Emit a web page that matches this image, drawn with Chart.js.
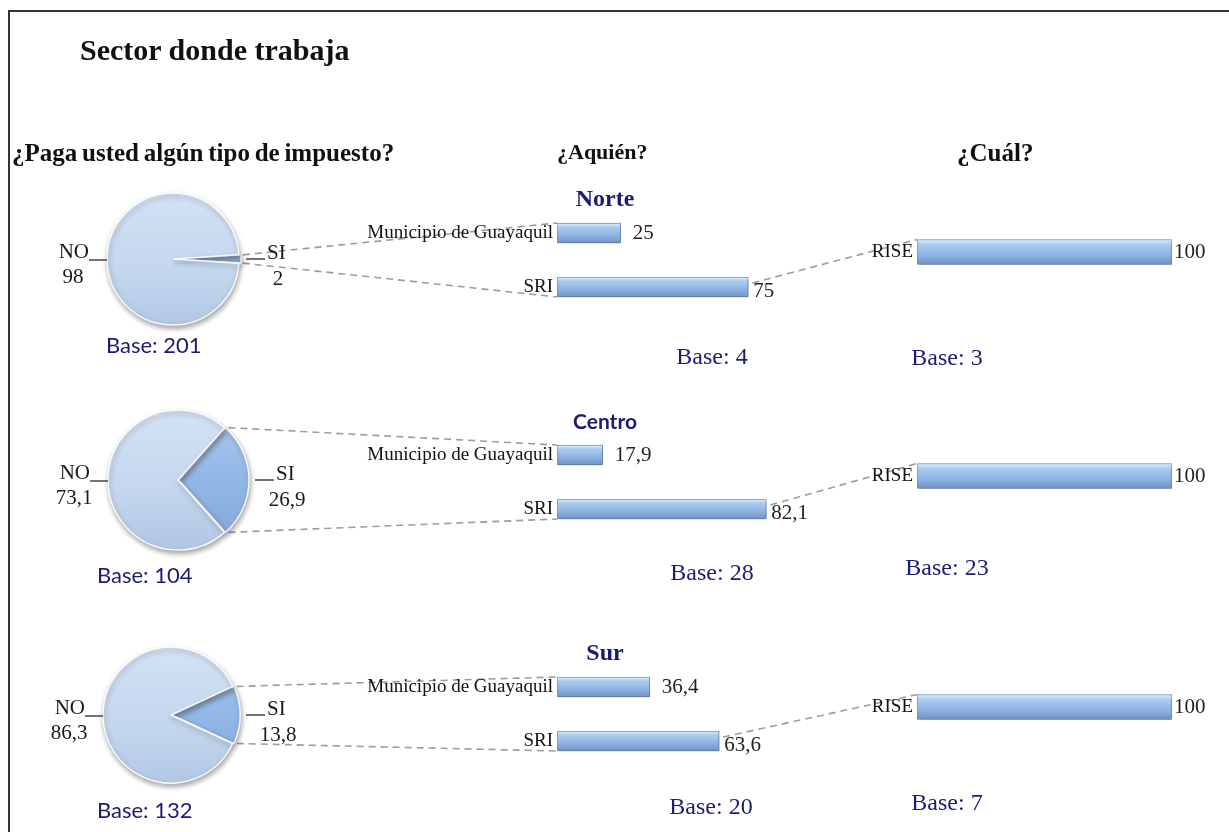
<!DOCTYPE html>
<html>
<head>
<meta charset="utf-8">
<title>Sector donde trabaja</title>
<script src="https://cdn.jsdelivr.net/npm/chart.js"></script>
<style>
  html, body { margin: 0; padding: 0; background: #fff; }
  #page { position: relative; width: 1229px; height: 832px; overflow: hidden; }
  #frame { position: absolute; left: 8px; top: 10px; width: 1260px; height: 860px;
           border-left: 2px solid #333; border-top: 2px solid #333; }
  .txt { position: absolute; white-space: nowrap; line-height: 1; }
  .serif { font-family: 'Liberation Serif', 'Times New Roman', serif; }
  .sans { font-family: Lato, 'Open Sans', sans-serif; }
  .bold { font-weight: bold; }
  .navy { color: #1c1c72; }
  canvas.chart { position: absolute; z-index: 1; }
  #links { position: absolute; left: 0; top: 0; z-index: 0; }
</style>
</head>
<body>
<div id="page">
  <div id="frame"></div>
  <canvas id="links" width="1229" height="832"></canvas>
  <div class="txt serif bold" style="left:80px;top:50px;transform:translateY(-50%);font-size:30px;color:#111">Sector donde trabaja</div>
  <div class="txt serif bold" style="left:12px;top:152px;transform:translateY(-50%);font-size:25px;word-spacing:-1.5px;color:#111">¿Paga usted algún tipo de impuesto?</div>
  <div class="txt serif bold" style="left:557px;top:152px;transform:translateY(-50%);font-size:22px;color:#111">¿Aquién?</div>
  <div class="txt serif bold" style="left:957px;top:152px;transform:translateY(-50%);font-size:25px;color:#111">¿Cuál?</div>
</div>
<script>
var zonas = ['Norte', 'Centro', 'Sur'];
var pagaLabels = ['SI', 'NO'];
var pagaSI = [2, 26.9, 13.8];
var pagaNO = [98, 73.1, 86.3];
var basePaga = [201, 104, 132];
var aquienLabels = ['Municipio de Guayaquil', 'SRI'];
var aquienMunicipio = [25, 17.9, 36.4];
var aquienSRI = [75, 82.1, 63.6];
var baseAquien = [4, 28, 20];
var cualLabels = ['RISE'];
var cualRISE = [100, 100, 100];
var baseCual = [3, 23, 7];

// where each row sits on the page
var rows = [
  { pie: [173, 259], r: 66, aquienTop: 206, cualMid: 252, zonaY: 198, zonaFont: 'serif', baseY: [345, 356, 357], baseX: [106, 712, 947] },
  { pie: [178, 480], r: 70, aquienTop: 428, cualMid: 476, zonaY: 420, zonaFont: 'sans', baseY: [575, 572, 567], baseX: [97, 712, 947] },
  { pie: [171, 715], r: 68, aquienTop: 660, cualMid: 707, zonaY: 652, zonaFont: 'serif', baseY: [810, 806, 802], baseX: [97, 711, 947] }
];
var PAD = 18; // vertical room for the category labels

var page = document.getElementById('page');

function fmt(v) { return String(v).replace('.', ','); }

function addText(text, x, y, cls, size, center) {
  var d = document.createElement('div');
  d.className = 'txt ' + cls;
  d.style.left = x + 'px';
  d.style.top = y + 'px';
  d.style.fontSize = size + 'px';
  d.style.transform = center ? 'translate(-50%,-50%)' : 'translateY(-50%)';
  d.textContent = text;
  page.appendChild(d);
}

function addCanvas(left, top, w, h) {
  var c = document.createElement('canvas');
  c.className = 'chart';
  c.width = w; c.height = h;
  c.style.left = left + 'px';
  c.style.top = top + 'px';
  c.style.width = w + 'px';
  c.style.height = h + 'px';
  page.appendChild(c);
  return c;
}

var shadow = {
  id: 'shadow',
  beforeDatasetsDraw: function(chart) {
    var ctx = chart.ctx;
    ctx.save();
    ctx.shadowColor = 'rgba(60,60,60,0.45)';
    ctx.shadowBlur = 5;
    ctx.shadowOffsetX = 1;
    ctx.shadowOffsetY = 3;
  },
  afterDatasetsDraw: function(chart) { chart.ctx.restore(); }
};

var valueLabels = {
  id: 'valueLabels',
  afterDraw: function(chart, args, opts) {
    var ctx = chart.ctx;
    var meta = chart.getDatasetMeta(0);
    var data = chart.data.datasets[0].data;
    ctx.save();
    ctx.font = '21px "Liberation Serif"';
    ctx.fillStyle = '#222';
    ctx.textAlign = 'left';
    ctx.textBaseline = 'middle';
    meta.data.forEach(function(bar, i) {
      ctx.fillText(fmt(data[i]), bar.x + opts.gap[i], bar.y + opts.dy[i]);
    });
    ctx.restore();
  }
};

var pieLabels = {
  id: 'pieLabels',
  afterDraw: function(chart) {
    var ctx = chart.ctx;
    var arcs = chart.getDatasetMeta(0).data;
    var data = chart.data.datasets[0].data;
    var si = arcs[0], no = arcs[1];
    var cx = no.x, cy = no.y, r = no.outerRadius;
    ctx.save();
    ctx.font = '21px "Liberation Serif"';
    ctx.fillStyle = '#1a1a1a';
    ctx.strokeStyle = '#444';
    ctx.lineWidth = 1.5;
    ctx.textBaseline = 'middle';
    // NO on the left
    var noX = cx - r - 18;
    ctx.beginPath(); ctx.moveTo(noX, cy + 1); ctx.lineTo(cx - r, cy + 1); ctx.stroke();
    ctx.textAlign = 'right';
    ctx.fillText(chart.data.labels[1], noX, cy - 7);
    ctx.textAlign = 'center';
    ctx.fillText(fmt(data[1]), noX - 16, cy + 18);
    // SI on the right
    var edge = cx + r + si.options.offset;
    ctx.beginPath(); ctx.moveTo(edge + 3, cy); ctx.lineTo(edge + 22, cy); ctx.stroke();
    ctx.textAlign = 'left';
    ctx.fillText(chart.data.labels[0], edge + 24, cy - 6);
    ctx.textAlign = 'center';
    ctx.fillText(fmt(data[0]), edge + 35, cy + 20);
    ctx.restore();
  }
};

function pieFill(c) {
  var area = c.chart.chartArea;
  var col = c.dataIndex === 0 ? ['#b2cff3', '#8fb5e6', '#7f9ccb'] : ['#d9e6f6', '#c4d7ef', '#a8bfdd'];
  if (!area || !isFinite(area.top) || !isFinite(area.bottom)) return col[1];
  var g = c.chart.ctx.createLinearGradient(0, area.top, 0, area.bottom);
  g.addColorStop(0, col[0]);
  g.addColorStop(0.55, col[1]);
  g.addColorStop(1, col[2]);
  return g;
}

function barFill(c) {
  var y = c.chart.scales.y;
  var h = 12;
  if (c.dataset && c.dataset.barThickness) h = c.dataset.barThickness / 2;
  var py = y ? y.getPixelForValue(c.dataIndex) : NaN;
  if (!isFinite(py)) return '#8fb4e3';
  var g = c.chart.ctx.createLinearGradient(0, py - h, 0, py + h);
  g.addColorStop(0, '#e2f1fe');
  g.addColorStop(0.2, '#acccf1');
  g.addColorStop(0.6, '#8fb4e3');
  g.addColorStop(1, '#6f92c3');
  return g;
}

function barOptions(labelWidth, rightPad, gap, dy) {
  return {
    indexAxis: 'y',
    responsive: false,
    animation: false,
    events: [],
    layout: { padding: { left: 0, right: rightPad, top: PAD, bottom: PAD } },
    plugins: { legend: { display: false }, tooltip: { enabled: false }, valueLabels: { gap: gap, dy: dy } },
    scales: {
      x: { display: false, min: 0, max: 100 },
      y: {
        grid: { display: false, drawTicks: false, tickLength: 0 },
        border: { display: false },
        ticks: { font: { family: 'Liberation Serif', size: 19 }, color: '#111', padding: 4 },
        afterFit: function(s) { s.width = labelWidth; }
      }
    }
  };
}

var pies = [], aquienCharts = [], cualCharts = [];

rows.forEach(function(row, i) {
  var cx = row.pie[0], cy = row.pie[1];
  var siDeg = pagaSI[i] * 3.6;

  var pc = addCanvas(cx - 140, cy - 95, 280, 190);
  pies.push(new Chart(pc, {
    type: 'pie',
    data: {
      labels: pagaLabels,
      datasets: [{
        data: [pagaSI[i], pagaNO[i]],
        backgroundColor: pieFill,
        borderColor: 'rgba(255,255,255,0.9)',
        borderWidth: 1.5,
        offset: [4, 0]
      }]
    },
    options: {
      responsive: false,
      animation: false,
      events: [],
      radius: row.r,
      rotation: 90 - siDeg / 2,
      plugins: { legend: { display: false }, tooltip: { enabled: false } }
    },
    plugins: [shadow, pieLabels]
  }));

  var ac = addCanvas(557 - 200, row.aquienTop - PAD, 200 + 255 + 60, 108 + 2 * PAD);
  aquienCharts.push(new Chart(ac, {
    type: 'bar',
    data: {
      labels: aquienLabels,
      datasets: [{
        data: [aquienMunicipio[i], aquienSRI[i]],
        barThickness: 20,
        backgroundColor: barFill,
        borderColor: '#7495c3',
        borderWidth: 1,
        borderSkipped: false
      }]
    },
    options: barOptions(200, 60, [12, 5], [0, 4]),
    plugins: [shadow, valueLabels]
  }));

  var cc = addCanvas(917 - 60, row.cualMid - 30 - PAD, 60 + 255 + 45, 60 + 2 * PAD);
  cualCharts.push(new Chart(cc, {
    type: 'bar',
    data: {
      labels: cualLabels,
      datasets: [{
        data: [cualRISE[i]],
        barThickness: 25,
        backgroundColor: barFill,
        borderColor: '#7495c3',
        borderWidth: 1,
        borderSkipped: false
      }]
    },
    options: barOptions(60, 45, [2], [0]),
    plugins: [shadow, valueLabels]
  }));

  addText(zonas[i], 605, row.zonaY, (row.zonaFont === 'sans' ? 'sans' : 'serif') + ' bold navy', row.zonaFont === 'sans' ? 21 : 24, true);
  addText('Base: ' + basePaga[i], row.baseX[0], row.baseY[0], 'sans navy', 22, false);
  addText('Base: ' + baseAquien[i], row.baseX[1], row.baseY[1], 'serif navy', 24, true);
  addText('Base: ' + baseCual[i], row.baseX[2], row.baseY[2], 'serif navy', 24, true);
});

// dashed connectors between the three blocks of each row
var lk = document.getElementById('links').getContext('2d');
lk.strokeStyle = '#9c9c9c';
lk.lineWidth = 1.6;
lk.setLineDash([7, 5]);

function seg(a, b) {
  lk.beginPath(); lk.moveTo(a[0], a[1]); lk.lineTo(b[0], b[1]); lk.stroke();
}

rows.forEach(function(row, i) {
  var pie = pies[i], ach = aquienCharts[i], cch = cualCharts[i];
  var px = pie.canvas.offsetLeft, py = pie.canvas.offsetTop;
  var si = pie.getDatasetMeta(0).data[0];
  var mid = (si.startAngle + si.endAngle) / 2;
  var off = si.options.offset;
  var ox = si.x + Math.cos(mid) * off, oy = si.y + Math.sin(mid) * off;
  var R = si.outerRadius;
  var top = [px + ox + Math.cos(si.startAngle) * R, py + oy + Math.sin(si.startAngle) * R];
  var bot = [px + ox + Math.cos(si.endAngle) * R, py + oy + Math.sin(si.endAngle) * R];

  var ax = ach.canvas.offsetLeft, ay = ach.canvas.offsetTop;
  var bars = ach.getDatasetMeta(0).data;
  var mun = bars[0], sri = bars[1];
  seg(top, [ax + mun.base, ay + mun.y - mun.height / 2]);
  seg(bot, [ax + sri.base, ay + sri.y + sri.height / 2]);

  var cx = cch.canvas.offsetLeft, cy = cch.canvas.offsetTop;
  var rise = cch.getDatasetMeta(0).data[0];
  seg([ax + sri.x + 4, ay + sri.y - 4], [cx + rise.base, cy + rise.y - rise.height / 2]);
});
</script>
</body>
</html>
